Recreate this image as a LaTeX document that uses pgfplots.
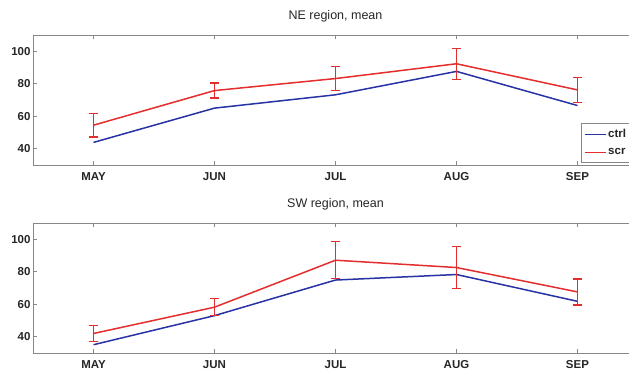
\documentclass[border=0pt]{standalone}
\usepackage{fontspec}
\setmainfont{Liberation Sans}
\usepackage{pgfplots}
\pgfplotsset{compat=1.18}
\definecolor{ctrlc}{RGB}{40,50,165}
\definecolor{scrc}{RGB}{228,45,45}
\definecolor{axg}{RGB}{135,135,135}
\pgfplotsset{
  myax/.style={
    scale only axis, width=605pt, height=130pt,
    xmin=-0.5, xmax=4.5, ymin=30, ymax=110,
    xtick={0,1,2,3,4}, xticklabels={MAY,JUN,JUL,AUG,SEP},
    ytick={40,60,80,100},
    separate axis lines,
    axis x line*=box, axis y line*=left,
    x axis line style={-}, y axis line style={-},
    xtick pos=both, ytick pos=left,
    tick align=inside, major tick length=4pt,
    axis line style={axg, line width=0.8pt},
    every tick/.style={axg, line width=0.8pt},
    /pgf/number format/assume math mode=true,
    xticklabel style={font=\bfseries\fontsize{11.5}{13}\selectfont, text=black!85, anchor=base, yshift=-15.4pt},
    yticklabel style={font=\bfseries\fontsize{11.5}{13}\selectfont, text=black!85, anchor=east, inner sep=0pt, xshift=-2.3pt},
    title style={font=\fontsize{12.5}{14}\selectfont, text=black!85, anchor=base, at={(0.5,1)}, yshift=9.7pt},
    clip=false,
  },
  ctrlst/.style={ctrlc, line width=1.5pt, no marks},
  scrst/.style={scrc, line width=1.5pt, no marks,
    error bars/.cd, y dir=both, y explicit,
    error bar style={scrc, line width=1.6pt},
    error mark options={scrc, line width=1.3pt, mark size=4.8pt, rotate=90}},
}
\begin{document}
\begin{tikzpicture}
\useasboundingbox (0,0) rectangle (629pt,370pt);
\clip (0,0) rectangle (629pt,370pt);
\begin{axis}[myax, at={(33pt,205pt)}, anchor=south west,
  title={NE region, mean},
  legend style={at={(0.905,0.0)}, anchor=south west, draw=axg, line width=0.8pt, yshift=2.6pt,
    font=\bfseries\fontsize{11.5}{13}\selectfont, text=black!85, inner xsep=3pt, inner ysep=4pt,
    row sep=5pt},
  legend cell align=left,
  legend image code/.code={\draw[#1, line width=1.3pt] (0pt,0pt) -- (21pt,0pt);},
]
\addplot[ctrlst] coordinates {(0,43.9) (1,65.0) (2,73.2) (3,87.6) (4,66.6)};
\addlegendentry{ctrl\hspace*{14pt}}
\addplot[scrst] coordinates {
  (0,54.5) +- (0,7.2)
  (1,75.8) +- (0,4.6)
  (2,83.2) +- (0,7.3)
  (3,92.3) +- (0,9.5)
  (4,76.2) +- (0,7.6)};
\addlegendentry{scr\hspace*{18pt}}
\end{axis}
\begin{axis}[myax, at={(33pt,17pt)}, anchor=south west,
  title={SW region, mean},
]
\addplot[ctrlst] coordinates {(0,35.1) (1,53.0) (2,74.9) (3,78.3) (4,61.8)};
\addplot[scrst] coordinates {
  (0,42.0) +- (0,5.0)
  (1,58.2) +- (0,5.2)
  (2,87.1) +- (0,11.4)
  (3,82.6) +- (0,12.9)
  (4,67.6) +- (0,8.0)};
\end{axis}
\end{tikzpicture}
\end{document}
